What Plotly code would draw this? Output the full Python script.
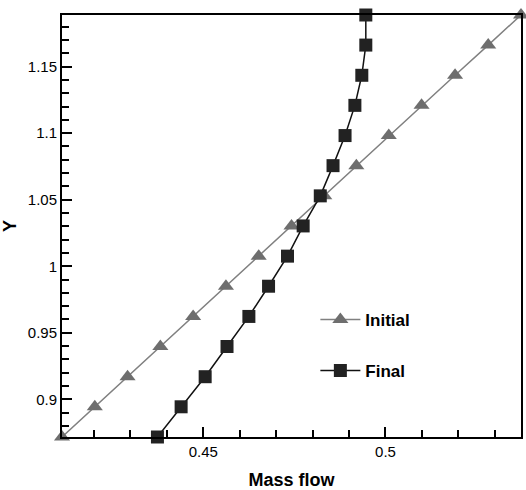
import plotly.graph_objects as go

# Y positions (shared by both series)
y_vals = [0.8717, 0.8944, 0.9170, 0.9397, 0.9623, 0.9850, 1.0076, 1.0303,
          1.0529, 1.0756, 1.0982, 1.1209, 1.1435, 1.1662, 1.1888]

initial_x = [0.4112, 0.4202, 0.4292, 0.4382, 0.4472, 0.4562, 0.4652, 0.4742,
             0.4832, 0.4920, 0.5009, 0.5099, 0.5191, 0.5282, 0.5372]

final_x = [0.4374, 0.4439, 0.4505, 0.4565, 0.4625, 0.4679, 0.4731, 0.4774,
           0.4821, 0.4856, 0.4889, 0.4916, 0.4935, 0.4946, 0.4946]

x_ticks = [0.45, 0.5]
x_ticklabels = ["0.45", "0.5"]
y_ticks = [0.9, 0.95, 1.0, 1.05, 1.1, 1.15]
y_ticklabels = ["0.9", "0.95", "1", "1.05", "1.1", "1.15"]

FONT = "Liberation Sans, Arial, sans-serif"

fig = go.Figure()
fig.add_trace(go.Scatter(
    x=initial_x, y=y_vals, name="Initial", mode="lines+markers",
    line=dict(color="#808080", width=1.5),
    marker=dict(symbol="triangle-up", size=14, color="#6e6e6e"),
    cliponaxis=False, legendgroup="a"))
fig.add_trace(go.Scatter(
    x=final_x, y=y_vals, name="Final", mode="lines+markers",
    line=dict(color="#111111", width=1.5),
    marker=dict(symbol="square", size=13, color="#222222"),
    cliponaxis=False, legendgroup="b"))

axis_common = dict(
    showline=True, linecolor="black", linewidth=2, mirror=True,
    ticks="inside", tickcolor="black", tickwidth=1.5, ticklen=10,
    showgrid=False, zeroline=False,
    tickfont=dict(family=FONT, size=15, color="black"),
)

fig.update_xaxes(
    range=[0.4112, 0.5372], tickvals=x_ticks, ticktext=x_ticklabels,
    minor=dict(dtick=0.01, ticks="inside", ticklen=7, tickcolor="black", tickwidth=1.5, showgrid=False),
    title=dict(text="<b>Mass flow</b>", font=dict(family=FONT, size=18, color="black"), standoff=14),
    **axis_common)
fig.update_yaxes(
    range=[0.8717, 1.1888], tickvals=y_ticks, ticktext=y_ticklabels,
    minor=dict(dtick=0.01, ticks="inside", ticklen=7, tickcolor="black", tickwidth=1.5, showgrid=False),
    title=dict(text="<b>Y</b>", font=dict(family=FONT, size=18, color="black"), standoff=12),
    **axis_common)

fig.update_layout(
    width=526, height=490,
    margin=dict(l=61, r=3, t=15, b=52),
    plot_bgcolor="white", paper_bgcolor="white",
    showlegend=True,
    legend=dict(x=0.552, y=0.32, xanchor="left", yanchor="top",
                bgcolor="rgba(0,0,0,0)", traceorder="grouped", tracegroupgap=26,
                font=dict(family=FONT, size=17, color="black"),
                itemwidth=40),
)
fig.for_each_trace(lambda t: t.update(name="<b>" + t.name + "</b>"))

fig.write_html("out.html")
